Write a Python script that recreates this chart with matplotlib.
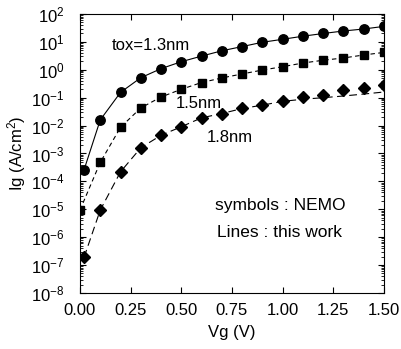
import numpy as np
import matplotlib
matplotlib.use("Agg")
import matplotlib.pyplot as plt
from matplotlib.ticker import LogLocator, NullFormatter

plt.rcParams["font.family"] = ["Liberation Sans", "DejaVu Sans"]
plt.rcParams["mathtext.fontset"] = "custom"
plt.rcParams["mathtext.rm"] = "Liberation Sans"
plt.rcParams["mathtext.it"] = "Liberation Sans:italic"

# NEMO symbols
vg_c = [0.02, 0.1, 0.2, 0.3, 0.4, 0.5, 0.6, 0.7, 0.8, 0.9, 1.0, 1.1, 1.2, 1.3, 1.4, 1.5]
ig_c = [2.6e-4, 0.016, 0.155, 0.52, 1.1, 1.95, 3.1, 4.8, 6.8, 9.7, 12.4, 16, 20, 24.6, 29, 36]
vg_s = [0.0, 0.1, 0.2, 0.3, 0.4, 0.5, 0.6, 0.7, 0.8, 0.9, 1.0, 1.1, 1.2, 1.3, 1.4, 1.5]
ig_s = [9.4e-6, 4.8e-4, 0.0087, 0.043, 0.106, 0.2, 0.35, 0.51, 0.71, 0.98, 1.29, 1.75, 2.2, 2.65, 3.4, 4.2]
vg_d = [0.02, 0.1, 0.2, 0.3, 0.4, 0.5, 0.6, 0.7, 0.8, 0.9, 1.0, 1.1, 1.2, 1.3, 1.4, 1.5]
ig_d = [1.9e-7, 9.4e-6, 2.2e-4, 1.6e-3, 4.5e-3, 9.1e-3, 0.019, 0.027, 0.041, 0.054, 0.078, 0.11, 0.13, 0.19, 0.22, 0.285]

# this work (lines)
line_c = [2.6e-4, 0.016, 0.155, 0.52, 1.1, 1.95, 3.1, 4.8, 6.8, 9.7, 12.4, 16, 20, 24.6, 29, 36]
line_s = [9.4e-6, 4.8e-4, 0.0087, 0.043, 0.106, 0.2, 0.35, 0.51, 0.71, 0.98, 1.29, 1.75, 2.2, 2.65, 3.4, 4.2]
line_d = [1.9e-7, 9.4e-6, 2.2e-4, 1.6e-3, 4.5e-3, 9.1e-3, 0.019, 0.027, 0.041, 0.054, 0.074, 0.088, 0.1, 0.115, 0.135, 0.16]

xticks = [0.0, 0.25, 0.5, 0.75, 1.0, 1.25, 1.5]
xticklabels = ["0.00", "0.25", "0.50", "0.75", "1.00", "1.25", "1.50"]

fig = plt.figure(figsize=(4.01, 3.49), dpi=100)
ax = fig.add_axes([0.1995, 0.1605, 0.7581, 0.7994])

ax.plot(vg_c, line_c, "-", color="black", lw=0.8)
ax.plot(vg_s, line_s, color="black", lw=0.8, dashes=(4, 3))
ax.plot(vg_d, line_d, color="black", lw=0.8, dashes=(7, 4))
ax.plot(vg_c, ig_c, "o", color="black", ms=6.8, ls="none")
ax.plot(vg_s, ig_s, "s", color="black", ms=5.6, ls="none")
ax.plot(vg_d, ig_d, "D", color="black", ms=6.2, ls="none")

ax.set_yscale("log")
ax.set_ylim(1e-8, 1e2)
ax.set_xlim(0, 1.5)
ax.set_xticks(xticks)
ax.set_xticklabels(xticklabels)
ax.yaxis.set_major_locator(LogLocator(base=10, numticks=20))
ax.yaxis.set_minor_locator(LogLocator(base=10, subs=np.arange(2, 10), numticks=20))
ax.yaxis.set_minor_formatter(NullFormatter())
ax.tick_params(which="both", direction="in", top=True, right=True, labelsize=12)
ax.tick_params(which="major", length=4, width=0.8)
ax.tick_params(axis="x", which="major", pad=7)
ax.tick_params(axis="y", which="major", pad=11)
ax.tick_params(which="minor", length=2, width=0.6)
for s in ax.spines.values():
    s.set_linewidth(0.8)

ax.set_xlabel("Vg (V)", fontsize=12)
ax.set_ylabel("Ig (A/cm$^2$)", fontsize=12)
ax.xaxis.set_label_coords(0.5, -0.113)
ax.yaxis.set_label_coords(-0.171, 0.5)

ax.text(0.158, 7.5, "tox=1.3nm", fontsize=12, va="center")
ax.text(0.474, 0.064, "1.5nm", fontsize=12, va="center")
ax.text(0.627, 0.0039, "1.8nm", fontsize=12, va="center")
ax.text(0.666, 1.4e-5, "symbols : NEMO", fontsize=12.5, va="center")
ax.text(0.676, 1.5e-6, "Lines : this work", fontsize=12.5, va="center")

fig.savefig("out.png", dpi=100)
